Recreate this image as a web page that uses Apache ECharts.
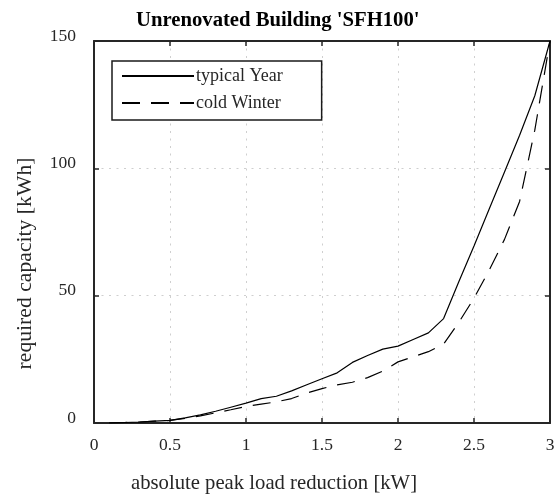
<!DOCTYPE html>
<html>
<head>
<meta charset="utf-8">
<script src="https://cdn.jsdelivr.net/npm/echarts@6/dist/echarts.min.js"></script>
<style>html,body{margin:0;padding:0;background:#fff}#c{width:556px;height:495px}</style>
</head>
<body>
<div id="c"></div>
<script>
var xValues = [0.1,0.2,0.3,0.4,0.5,0.6,0.7,0.8,0.9,1.0,1.1,1.2,1.3,1.4,1.5,1.6,1.7,1.8,1.9,2.0,2.1,2.2,2.3,2.4,2.5,2.6,2.7,2.8,2.9,3.0];
var typicalYear = [0,0.2,0.4,0.7,1.0,2.0,3.2,4.6,6.2,7.8,9.6,10.5,12.6,15.0,17.4,19.7,23.8,26.5,29.0,30.2,32.8,35.4,41.0,55.5,69.5,84.0,98.5,113.0,128.5,150.0];
var coldWinter  = [0,0.2,0.4,0.7,1.0,1.8,2.8,4.0,5.2,6.5,7.4,8.3,9.6,11.8,13.5,15.0,16.0,17.8,20.4,24.0,26.0,28.0,31.0,39.5,49.0,60.0,72.0,87.0,115.0,150.0];
var xTicks = [0,0.5,1,1.5,2,2.5,3];
var yTicks = [0,50,100,150];
var seriesNames = ['typical Year','cold Winter'];

function pairs(xs, ys){ return xs.map(function(x,i){return [x, ys[i]];}); }

var font = 'Liberation Serif';
var axisCol = '#262626';
var txtCol = '#262626';
var dash = [18,11];
var gridLine = {show:true,lineStyle:{color:'#cfcfcf',type:[2,5.5],width:1}};
var chart = echarts.init(document.getElementById('c'), null, {renderer:'canvas'});
chart.setOption({
  backgroundColor:'#fff',
  animation:false,
  title:{text:"Unrenovated Building 'SFH100'", left:131, top:5,
    textStyle:{fontFamily:font,fontWeight:'bold',fontSize:20.7,color:'#000'}},
  grid:{left:94, top:41, width:456, height:382, outerBoundsMode:'none', containLabel:false},
  legend:{
    orient:'vertical', left:112, top:61,
    data:[{name:seriesNames[0]},{name:seriesNames[1],lineStyle:{type:dash}}],
    itemWidth:72, itemHeight:10, itemGap:9,
    padding:[6,39,8,9],
    borderColor:'#1a1a1a', borderWidth:1.5, backgroundColor:'#fff',
    textStyle:{fontFamily:font,fontSize:18,color:txtCol,padding:[0,0,0,-3]},
    itemStyle:{opacity:0},
    selectedMode:false
  },
  xAxis:[{
    type:'value', min:0, max:3, interval:0.5, position:'bottom',
    name:'absolute peak load reduction [kW]', nameLocation:'middle', nameGap:50,
    nameTextStyle:{fontFamily:font,fontSize:20.7,color:txtCol,padding:[0,96,0,0]},
    axisLine:{show:true,onZero:false,lineStyle:{color:axisCol,width:2}},
    axisTick:{show:true,inside:true,length:5,lineStyle:{color:axisCol,width:1.5}},
    axisLabel:{fontFamily:font,fontSize:17.5,color:txtCol,margin:13},
    splitLine:gridLine
  },{
    type:'value', min:0, max:3, interval:0.5, position:'top',
    axisLine:{show:true,onZero:false,lineStyle:{color:axisCol,width:2}},
    axisTick:{show:true,inside:true,length:5,lineStyle:{color:axisCol,width:1.5}},
    axisLabel:{show:false}, splitLine:{show:false}
  }],
  yAxis:[{
    type:'value', min:0, max:150, interval:50, position:'left',
    name:'required capacity [kWh]', nameLocation:'middle', nameGap:58, nameRotate:90,
    nameTextStyle:{fontFamily:font,fontSize:21.7,color:txtCol,padding:[0,63,0,0]},
    axisLine:{show:true,onZero:false,lineStyle:{color:axisCol,width:2}},
    axisTick:{show:true,inside:true,length:5,lineStyle:{color:axisCol,width:1.5}},
    axisLabel:{fontFamily:font,fontSize:17.5,color:txtCol,margin:18,verticalAlign:'bottom',lineHeight:10},
    splitLine:gridLine
  },{
    type:'value', min:0, max:150, interval:50, position:'right',
    axisLine:{show:true,onZero:false,lineStyle:{color:axisCol,width:2}},
    axisTick:{show:true,inside:true,length:5,lineStyle:{color:axisCol,width:1.5}},
    axisLabel:{show:false}, splitLine:{show:false}
  }],
  series:[{
    name:seriesNames[0], type:'line', data:pairs(xValues,typicalYear),
    showSymbol:false, symbol:'none', color:'#000',
    lineStyle:{color:'#000',width:1.2,type:'solid'}
  },{
    name:seriesNames[1], type:'line', data:pairs(xValues,coldWinter),
    showSymbol:false, symbol:'none', color:'#000',
    lineStyle:{color:'#000',width:1.2,type:dash}
  }]
});
</script>
</body>
</html>
